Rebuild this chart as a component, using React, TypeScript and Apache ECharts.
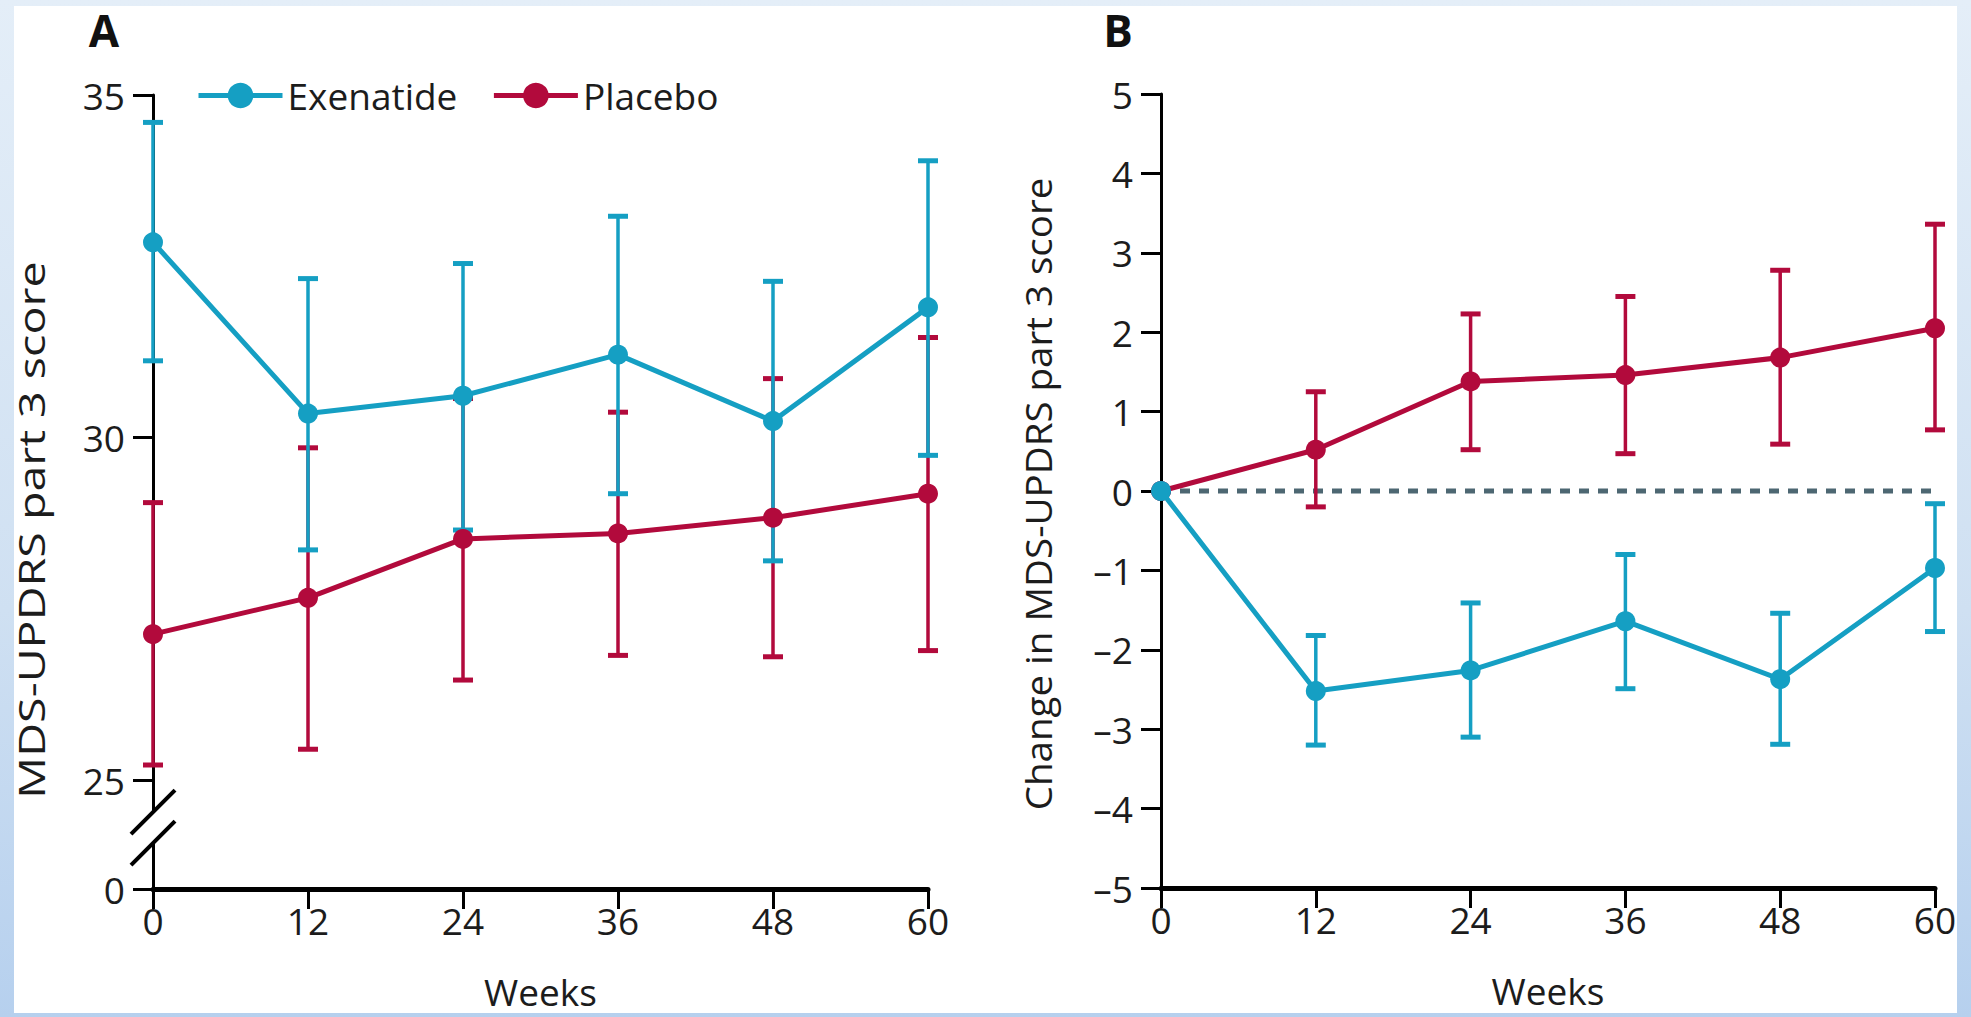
import React, { useEffect, useRef } from "react";
import * as echarts from "echarts";

// ---------- data ----------
const weeks = [0, 12, 24, 36, 48, 60];
const xTicks = [0, 12, 24, 36, 48, 60];

// Panel A: MDS-UPDRS part 3 score (mean with 95% CI)
const exenatideA = [32.85, 30.35, 30.61, 31.21, 30.24, 31.9];
const exenatideALow = [31.12, 28.36, 28.65, 29.18, 28.2, 29.74];
const exenatideAHigh = [34.6, 32.32, 32.54, 33.23, 32.28, 34.04];
const placeboA = [27.13, 27.66, 28.52, 28.6, 28.83, 29.18];
const placeboALow = [25.22, 25.45, 26.46, 26.82, 26.8, 26.89];
const placeboAHigh = [29.05, 29.85, 30.57, 30.37, 30.86, 31.46];
const yTicksA = [0, 25, 30, 35];
const yTickLabelsA = ["0", "25", "30", "35"];

// Panel B: change from baseline
const exenatideB = [0, -2.52, -2.26, -1.64, -2.37, -0.97];
const exenatideBLow = [null, -3.2, -3.1, -2.49, -3.19, -1.77];
const exenatideBHigh = [null, -1.82, -1.41, -0.8, -1.54, -0.16];
const placeboB = [0, 0.52, 1.38, 1.46, 1.68, 2.05];
const placeboBLow = [null, -0.2, 0.52, 0.47, 0.59, 0.77];
const placeboBHigh = [null, 1.25, 2.23, 2.45, 2.78, 3.36];
const yTicksB = [-5, -4, -3, -2, -1, 0, 1, 2, 3, 4, 5];

const seriesNames = ["Exenatide", "Placebo"];

// ---------- style ----------
const CYAN = "#159fc3";
const RED = "#b20a3c";
const DASH = "#4d6772";
const FONT = "Open Sans";
const TEXT = "#1c1c1c";

// display position of the "0" label below the axis break in panel A
const BREAK_ZERO = 23.41;
const toDisplayA = (v: number) => (v >= 25 ? v : BREAK_ZERO);

function errRows(low: (number | null)[], high: (number | null)[]) {
  return weeks
    .map((w, i) => [w, low[i], high[i]])
    .filter((r) => r[1] != null && r[2] != null);
}

function errSeries(name: string, color: string, idx: number, rows: any[], z: number) {
  return {
    name: name + " 95% CI",
    type: "custom",
    xAxisIndex: idx,
    yAxisIndex: idx,
    z,
    silent: true,
    itemStyle: { color },
    encode: { x: 0, y: [1, 2] },
    data: rows,
    renderItem: (params: any, api: any) => {
      const x = api.value(0);
      const lo = api.value(1);
      const hi = api.value(2);
      const t = api.coord([x, hi]);
      const b = api.coord([x, lo]);
      const w = 10;
      const st = { stroke: color, lineWidth: 3.5 };
      const cap = { stroke: color, lineWidth: 5 };
      return {
        type: "group",
        children: [
          { type: "line", shape: { x1: t[0], y1: t[1], x2: b[0], y2: b[1] }, style: st },
          { type: "line", shape: { x1: t[0] - w, y1: t[1], x2: t[0] + w, y2: t[1] }, style: cap },
          { type: "line", shape: { x1: b[0] - w, y1: b[1], x2: b[0] + w, y2: b[1] }, style: cap },
        ],
      };
    },
  };
}

function lineSeries(name: string, color: string, idx: number, vals: number[], z: number) {
  return {
    name,
    type: "line",
    xAxisIndex: idx,
    yAxisIndex: idx,
    z,
    data: weeks.map((w, i) => [w, vals[i]]),
    symbol: "circle",
    symbolSize: 20,
    showSymbol: true,
    lineStyle: { color, width: 5 },
    itemStyle: { color },
  };
}

const xAxisCommon = (idx: number) => ({
  type: "value",
  gridIndex: idx,
  min: 0,
  max: 60,
  interval: 12,
  name: "Weeks",
  nameLocation: "middle",
  nameGap: 84,
  nameTextStyle: { fontFamily: FONT, fontSize: 37, color: TEXT },
  axisLine: { show: true, onZero: false, lineStyle: { color: "#000", width: 5 } },
  axisTick: { show: true, length: 20, lineStyle: { color: "#000", width: 3 } },
  axisLabel: {
    fontFamily: FONT,
    fontSize: 37,
    color: TEXT,
    margin: 13,
    customValues: xTicks,
  },
  splitLine: { show: false },
});

export default function App() {
  const ref = useRef<HTMLDivElement>(null);

  useEffect(() => {
    if (!ref.current) return;
    const chart = echarts.init(ref.current, null, { renderer: "svg" });

    const option: any = {
      animation: false,
      backgroundColor: "transparent",
      textStyle: { fontFamily: FONT },
      legend: {
        data: seriesNames,
        left: 191,
        top: 72,
        itemWidth: 84,
        itemHeight: 32,
        itemGap: 34,
        lineStyle: { width: 5 },
        textStyle: { fontFamily: FONT, fontSize: 37, color: TEXT },
        selectedMode: false,
      },
      grid: [
        { left: 153, top: 95, width: 775, height: 794 },
        { left: 1161, top: 94, width: 774, height: 794 },
      ],
      xAxis: [xAxisCommon(0), xAxisCommon(1)],
      yAxis: [
        {
          type: "value",
          gridIndex: 0,
          min: BREAK_ZERO,
          max: 35,
          axisLine: { show: true, lineStyle: { color: "#000", width: 3 } },
          axisTick: {
            show: true,
            length: 20,
            lineStyle: { color: "#000", width: 3 },
            customValues: yTicksA.map(toDisplayA),
          },
          axisLabel: {
            fontFamily: FONT,
            fontSize: 37,
            color: TEXT,
            margin: 28,
            customValues: yTicksA.map(toDisplayA),
            formatter: (v: number) => {
              const i = yTicksA.findIndex((t) => Math.abs(toDisplayA(t) - v) < 1e-6);
              return i >= 0 ? yTickLabelsA[i] : "";
            },
          },
          splitLine: { show: false },
        },
        {
          type: "value",
          gridIndex: 1,
          min: -5,
          max: 5,
          interval: 1,
          axisLine: { show: true, onZero: false, lineStyle: { color: "#000", width: 3 } },
          axisTick: { show: true, length: 20, lineStyle: { color: "#000", width: 3 }, customValues: yTicksB },
          axisLabel: {
            fontFamily: FONT,
            fontSize: 37,
            color: TEXT,
            margin: 28,
            customValues: yTicksB,
            formatter: (v: number) => (v < 0 ? "\u2013" + Math.abs(v) : String(v)),
          },
          splitLine: { show: false },
        },
      ],
      series: [
        errSeries("Placebo", RED, 0, errRows(placeboALow, placeboAHigh), 2),
        errSeries("Exenatide", CYAN, 0, errRows(exenatideALow, exenatideAHigh), 3),
        lineSeries("Placebo", RED, 0, placeboA.map(toDisplayA), 4),
        lineSeries("Exenatide", CYAN, 0, exenatideA, 5),
        {
          name: "zero",
          type: "line",
          xAxisIndex: 1,
          yAxisIndex: 1,
          z: 1,
          symbol: "none",
          silent: true,
          data: [
            [0, 0],
            [60, 0],
          ],
          lineStyle: { color: DASH, width: 5, type: [10, 9] },
        },
        errSeries("Placebo", RED, 1, errRows(placeboBLow, placeboBHigh), 2),
        errSeries("Exenatide", CYAN, 1, errRows(exenatideBLow, exenatideBHigh), 3),
        lineSeries("Placebo", RED, 1, placeboB, 4),
        lineSeries("Exenatide", CYAN, 1, exenatideB, 5),
      ],
    };
    chart.setOption(option);

    // axis-break decoration and panel texts, placed via the axes' own scales
    const p25 = chart.convertToPixel({ gridIndex: 0 }, [0, 25]) as number[];
    const ax = p25[0];
    const s1 = p25[1] + 32;
    const s2 = p25[1] + 63;
    const half = 22;
    const slash = (cy: number) => ({
      type: "line",
      z: 100,
      shape: { x1: ax - half, y1: cy + half, x2: ax + half, y2: cy - half },
      style: { stroke: "#000", lineWidth: 4 },
    });
    const cB = chart.convertToPixel({ gridIndex: 1 }, [0, 0]) as number[];

    chart.setOption({
      graphic: [
        {
          type: "rect",
          z: 99,
          shape: { x: ax - 4, y: s1, width: 8, height: s2 - s1 },
          style: { fill: "#fff" },
        },
        slash(s1),
        slash(s2),
        {
          type: "text",
          x: 104,
          y: 30,
          style: { text: "A", font: `bold 44px "${FONT}"`, fill: "#111", align: "center", verticalAlign: "middle" },
        },
        {
          type: "text",
          x: 1118,
          y: 30,
          style: { text: "B", font: `bold 44px "${FONT}"`, fill: "#111", align: "center", verticalAlign: "middle" },
        },
        {
          type: "text",
          x: 30,
          y: 530,
          rotation: Math.PI / 2,
          scaleX: 1.26,
          style: {
            text: "MDS-UPDRS part 3 score",
            font: `37px "${FONT}"`,
            fill: TEXT,
            align: "center",
            verticalAlign: "middle",
          },
        },
        {
          type: "text",
          x: 1038,
          y: cB[1] + 3,
          rotation: Math.PI / 2,
          scaleX: 1.07,
          style: {
            text: "Change in MDS-UPDRS part 3 score",
            font: `36px "${FONT}"`,
            fill: TEXT,
            align: "center",
            verticalAlign: "middle",
          },
        },
      ],
    });

    return () => chart.dispose();
  }, []);

  return (
    <div
      style={{
        position: "fixed",
        left: 0,
        top: 0,
        width: 1971,
        height: 1017,
        background: "linear-gradient(to bottom, #e4eef8 0%, #cfe0f2 60%, #b6d0ee 100%)",
        overflow: "hidden",
      }}
    >
      <div
        style={{
          position: "absolute",
          left: 14,
          top: 6,
          width: 1943,
          height: 1007,
          background: "#fff",
        }}
      />
      <div ref={ref} style={{ position: "absolute", left: 0, top: 0, width: 1971, height: 1017 }} />
    </div>
  );
}
